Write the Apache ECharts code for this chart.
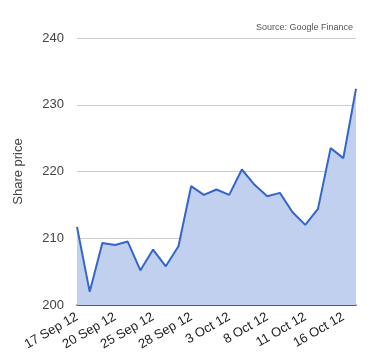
<!DOCTYPE html>
<html><head><meta charset="utf-8">
<script src="https://cdn.jsdelivr.net/npm/echarts@6/dist/echarts.min.js"></script>
<style>html,body{margin:0;padding:0;background:#fff}#c{width:380px;height:360px}</style>
</head><body><div id="c"></div>
<script>
const dates = ['17 Sep 12','18 Sep 12','19 Sep 12','20 Sep 12','21 Sep 12','24 Sep 12','25 Sep 12','26 Sep 12','27 Sep 12','28 Sep 12','1 Oct 12','2 Oct 12','3 Oct 12','4 Oct 12','5 Oct 12','8 Oct 12','9 Oct 12','10 Oct 12','11 Oct 12','12 Oct 12','15 Oct 12','16 Oct 12','17 Oct 12'];
const prices = [211.7,202.0,209.3,209.0,209.5,205.2,208.3,205.8,208.8,217.8,216.5,217.3,216.5,220.3,218.0,216.3,216.8,213.9,212.0,214.4,223.5,222.0,232.4];
const shownLabels = ['17 Sep 12','20 Sep 12','25 Sep 12','28 Sep 12','3 Oct 12','8 Oct 12','11 Oct 12','16 Oct 12'];
const yTicks = [200,210,220,230,240];
const chart = echarts.init(document.getElementById('c'), null, {renderer:'canvas'});
chart.setOption({
  animation:false,
  grid:{left:77,right:24,top:38,bottom:55,containLabel:false},
  graphic:[{type:'text',right:27,top:23,style:{text:'Source: Google Finance',font:'9px "Liberation Sans", Arial',fill:'#555'}}],
  xAxis:{type:'category',data:dates,boundaryGap:false,
    axisLine:{lineStyle:{color:'#333',width:1.5}},axisTick:{show:false},
    axisLabel:{interval:(i,v)=>shownLabels.includes(v),rotate:30,color:'#222',fontSize:13,
      fontFamily:'"Liberation Sans", Arial',margin:11,hideOverlap:false}},
  yAxis:{type:'value',min:200,max:240,interval:10,name:'Share price',nameLocation:'middle',nameGap:52,
    nameTextStyle:{color:'#444',fontSize:13,fontFamily:'"Liberation Sans", Arial'},
    axisLine:{show:false},axisTick:{show:false},
    axisLabel:{color:'#444',fontSize:13,fontFamily:'"Liberation Sans", Arial',margin:13,
      formatter:v=>yTicks.includes(v)?String(v):''},
    splitLine:{lineStyle:{color:'#ccc'}}},
  series:[{type:'line',data:prices,symbol:'none',lineStyle:{color:'#3366cc',width:2},
    areaStyle:{color:'#c1d0ef',opacity:1}}]
});
</script></body></html>
